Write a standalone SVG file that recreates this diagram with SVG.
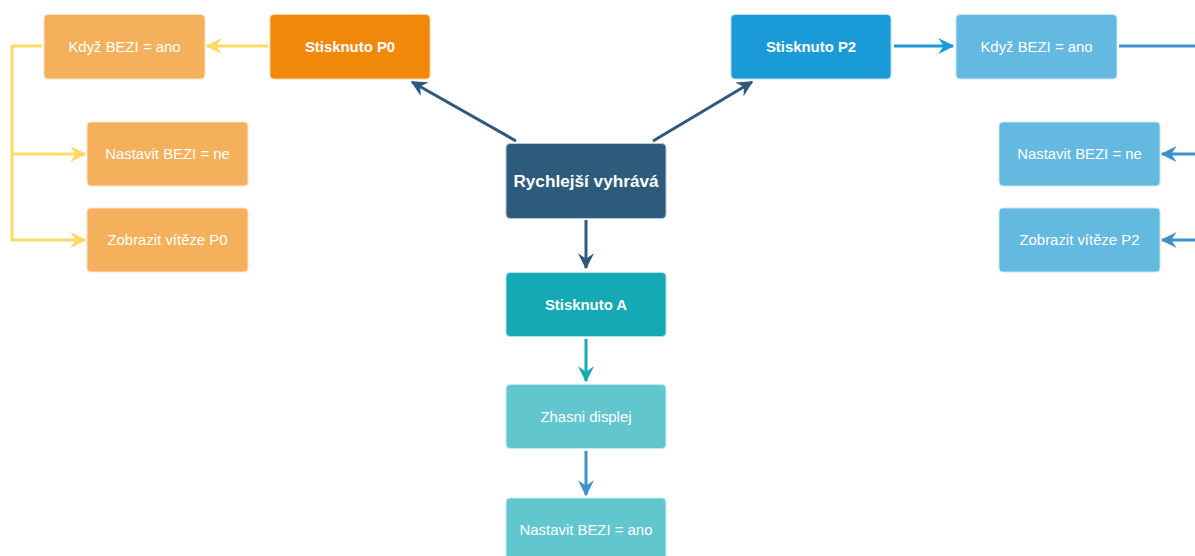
<svg xmlns="http://www.w3.org/2000/svg" width="1195" height="556" viewBox="0 0 1195 556">
<style>
text{font-family:"Liberation Sans",Arial,sans-serif;fill:#fff;text-anchor:middle;dominant-baseline:central}
.b{font-weight:bold;font-size:14.9px}
.r{font-size:14.9px}
.main{font-weight:bold;font-size:17.2px}
rect{stroke-width:1}
.c{fill:none;stroke-width:3}
</style>
<defs>
<marker id="ad" viewBox="0 0 12 12" refX="11" refY="6" markerWidth="16" markerHeight="16" orient="auto" markerUnits="userSpaceOnUse"><path d="M0,0 L12,6 L0,12 L4,6 Z" fill="#2E5A7C"/></marker>
<marker id="aY" viewBox="0 0 12 12" refX="11" refY="6" markerWidth="16" markerHeight="16" orient="auto" markerUnits="userSpaceOnUse"><path d="M0,0 L12,6 L0,12 L4,6 Z" fill="#FFD966"/></marker>
<marker id="ab" viewBox="0 0 12 12" refX="11" refY="6" markerWidth="16" markerHeight="16" orient="auto" markerUnits="userSpaceOnUse"><path d="M0,0 L12,6 L0,12 L4,6 Z" fill="#1A9AD6"/></marker>
<marker id="am" viewBox="0 0 12 12" refX="11" refY="6" markerWidth="16" markerHeight="16" orient="auto" markerUnits="userSpaceOnUse"><path d="M0,0 L12,6 L0,12 L4,6 Z" fill="#3F91CC"/></marker>
<marker id="at" viewBox="0 0 12 12" refX="11" refY="6" markerWidth="16" markerHeight="16" orient="auto" markerUnits="userSpaceOnUse"><path d="M0,0 L12,6 L0,12 L4,6 Z" fill="#14A9B5"/></marker>
</defs>
<g id="connectors">
<path class="c" d="M268,46 H207" stroke="#FFD966" marker-end="url(#aY)"/>
<path class="c" d="M42,46 H12 V240 H85" stroke="#FFD966" marker-end="url(#aY)"/>
<path class="c" d="M12,154 H85" stroke="#FFD966" marker-end="url(#aY)"/>
<path class="c" d="M516,141 L412,82" stroke="#2E5A7C" marker-end="url(#ad)"/>
<path class="c" d="M653,141 L752,82" stroke="#2E5A7C" marker-end="url(#ad)"/>
<path class="c" d="M586,220 V268" stroke="#2E5A7C" marker-end="url(#ad)"/>
<path class="c" d="M586,339 V381" stroke="#14A9B5" marker-end="url(#at)"/>
<path class="c" d="M586,451 V495" stroke="#3F91CC" marker-end="url(#am)"/>
<path class="c" d="M894,46 H953" stroke="#1A9AD6" marker-end="url(#ab)"/>
<path class="c" d="M1119,46 H1195" stroke="#3F91CC"/>
<path class="c" d="M1195,154 H1162" stroke="#3F91CC" marker-end="url(#am)"/>
<path class="c" d="M1195,240 H1162" stroke="#3F91CC" marker-end="url(#am)"/>
</g>
<g id="kdyz-p0"><rect x="44" y="14.5" width="161" height="64.5" rx="4" fill="#F5B05B" stroke="#FCE3C4"/><text class="r" x="124.5" y="46.5">Když BEZI = ano</text></g>
<g id="stisknuto-p0"><rect x="270" y="14.5" width="160" height="64.5" rx="4" fill="#F0890A" stroke="#F9CF9B"/><text class="b" x="350" y="46.5">Stisknuto P0</text></g>
<g id="nastavit-ne-p0"><rect x="87" y="122" width="161" height="64" rx="4" fill="#F5B05B" stroke="#FCE3C4"/><text class="r" x="167.5" y="154">Nastavit BEZI = ne</text></g>
<g id="zobrazit-p0"><rect x="87" y="208" width="161" height="64" rx="4" fill="#F5B05B" stroke="#FCE3C4"/><text class="r" x="167.5" y="240">Zobrazit vítěze P0</text></g>
<g id="rychlejsi"><rect x="506" y="143.5" width="160" height="75" rx="4" fill="#2E5A7C" stroke="#B9CAD7"/><text class="main" x="586" y="181">Rychlejší vyhrává</text></g>
<g id="stisknuto-p2"><rect x="731" y="14.5" width="160" height="64.5" rx="4" fill="#1A9AD6" stroke="#B4DEF2"/><text class="b" x="811" y="46.5">Stisknuto P2</text></g>
<g id="kdyz-p2"><rect x="956" y="14.5" width="161" height="64.5" rx="4" fill="#63B9E0" stroke="#C9E6F4"/><text class="r" x="1036.5" y="46.5">Když BEZI = ano</text></g>
<g id="nastavit-ne-p2"><rect x="999" y="122" width="161" height="64" rx="4" fill="#63B9E0" stroke="#C9E6F4"/><text class="r" x="1079.5" y="154">Nastavit BEZI = ne</text></g>
<g id="zobrazit-p2"><rect x="999" y="208" width="161" height="64" rx="4" fill="#63B9E0" stroke="#C9E6F4"/><text class="r" x="1079.5" y="240">Zobrazit vítěze P2</text></g>
<g id="stisknuto-a"><rect x="506" y="272.5" width="160" height="64" rx="4" fill="#14A9B5" stroke="#B0E1E5"/><text class="b" x="586" y="304.5">Stisknuto A</text></g>
<g id="zhasni"><rect x="506" y="384.5" width="160" height="64" rx="4" fill="#62C6CF" stroke="#C7EAED"/><text class="r" x="586" y="416.5">Zhasni displej</text></g>
<g id="nastavit-ano"><rect x="506" y="498" width="160" height="70" rx="4" fill="#62C6CF" stroke="#C7EAED"/><text class="r" x="586" y="530">Nastavit BEZI = ano</text></g>
</svg>
